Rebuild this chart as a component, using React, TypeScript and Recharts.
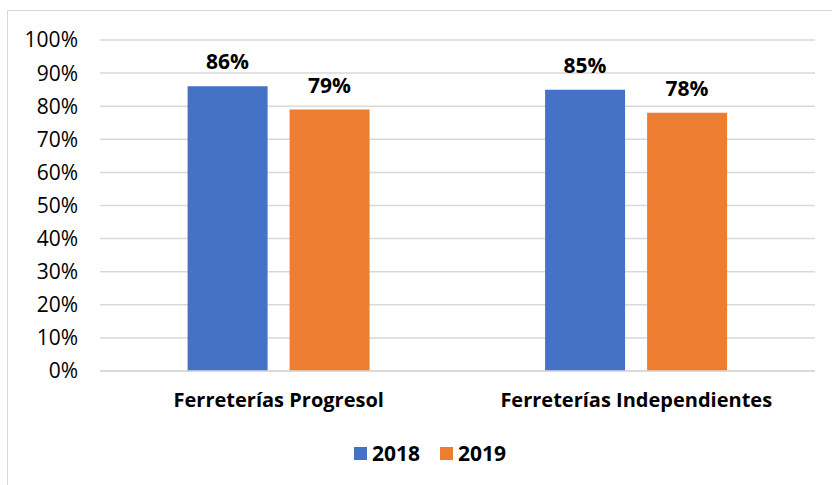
import React from "react";
import {
  BarChart,
  Bar,
  XAxis,
  YAxis,
  CartesianGrid,
  Legend,
  LabelList,
} from "recharts";

const categorias = ["Ferreterías Progresol", "Ferreterías Independientes"];
const valores2018 = [86, 85];
const valores2019 = [79, 78];
const ticksY = [0, 10, 20, 30, 40, 50, 60, 70, 80, 90, 100];

const FONT = "'Open Sans', 'Noto Sans', sans-serif";
const AZUL = "#4472C4";
const NARANJA = "#ED7D31";
const GRIS = "#d9d9d9";

const data = categorias.map((c, i) => ({
  name: c,
  y2018: valores2018[i],
  y2019: valores2019[i],
}));

const LeyendaCustom = (props: any) => {
  const { payload } = props;
  return (
    <div style={{ display: "flex", alignItems: "center", fontFamily: FONT }}>
      {payload.map((p: any, i: number) => (
        <div
          key={i}
          style={{ display: "flex", alignItems: "center", marginRight: 20 }}
        >
          <span
            style={{
              display: "inline-block",
              width: 13,
              height: 13,
              background: p.color,
              marginRight: 5,
            }}
          />
          <span style={{ fontWeight: 700, fontSize: 21, color: "#000" }}>
            {p.value}
          </span>
        </div>
      ))}
    </div>
  );
};

export default function App() {
  return (
    <div
      style={{
        position: "absolute",
        left: 0,
        top: 0,
        width: 832,
        height: 485,
        overflow: "hidden",
        background: "#fff",
      }}
    >
      {/* marco gris del gráfico */}
      <div
        style={{
          position: "absolute",
          left: 7,
          top: 10,
          width: 900,
          height: 600,
          border: `1.5px solid ${GRIS}`,
        }}
      />
      <div style={{ position: "absolute", left: 0, top: 0 }}>
        <BarChart
          width={832}
          height={485}
          data={data}
          margin={{ top: 40, right: 17, left: 0, bottom: 0 }}
          barGap={22}
          barCategoryGap="24.5%"
        >
          <CartesianGrid vertical={false} stroke={GRIS} strokeWidth={1.5} />
          <XAxis
            dataKey="name"
            height={114}
            tickLine={false}
            tickSize={0}
            tickMargin={22}
            axisLine={{ stroke: GRIS, strokeWidth: 1.5 }}
            tick={{ fontFamily: FONT, fontSize: 20, fontWeight: 700, fill: "#000" }}
          />
          <YAxis
            width={100}
            domain={[0, 100]}
            ticks={ticksY}
            interval={0}
            tickLine={false}
            tickSize={0}
            tickMargin={22}
            axisLine={false}
            tickFormatter={(v: number) => `${v}%`}
            tick={{ fontFamily: FONT, fontSize: 21, fill: "#000" }}
          />
          <Legend
            layout="horizontal"
            verticalAlign="middle"
            align="center"
            content={<LeyendaCustom />}
            wrapperStyle={{ position: "absolute", left: 354, top: 439, width: 200 }}
          />
          <Bar dataKey="y2018" name="2018" fill={AZUL} isAnimationActive={false}>
            <LabelList
              dataKey="y2018"
              position="top"
              offset={17}
              formatter={(v: any) => `${v}%`}
              style={{ fontFamily: FONT, fontSize: 21, fontWeight: 700, fill: "#000" }}
            />
          </Bar>
          <Bar dataKey="y2019" name="2019" fill={NARANJA} isAnimationActive={false}>
            <LabelList
              dataKey="y2019"
              position="top"
              offset={17}
              formatter={(v: any) => `${v}%`}
              style={{ fontFamily: FONT, fontSize: 21, fontWeight: 700, fill: "#000" }}
            />
          </Bar>
        </BarChart>
      </div>
    </div>
  );
}
